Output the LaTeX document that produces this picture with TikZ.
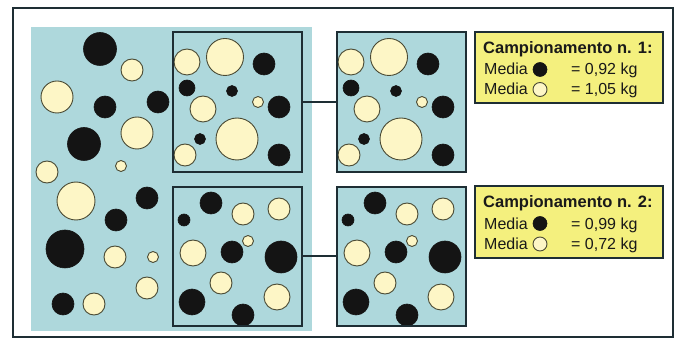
\documentclass[tikz,border=0pt]{standalone}
\usepackage{fontspec}
\setmainfont{Liberation Sans}
\definecolor{bg}{HTML}{AED8DC}
\definecolor{cream}{HTML}{FDF6C6}
\definecolor{legy}{HTML}{F4F07E}
\definecolor{frame}{HTML}{1E2E34}
\definecolor{blk}{HTML}{141414}
\definecolor{rim}{HTML}{4A4A34}
\tikzset{
 bc/.style={fill=blk, draw=blk, line width=0.6pt},
 wc/.style={fill=cream, draw=rim, line width=0.9pt},
 sample/.style={draw=frame, line width=2pt, minimum width=129pt, minimum height=140pt, inner sep=0pt, outer sep=0pt},
 legend/.style={draw=frame, fill=legy, line width=2pt, minimum width=188pt, minimum height=71pt, inner sep=0pt, outer sep=0pt},
 txt/.style={anchor=base west, inner sep=0pt, font=\fontsize{16}{19}\selectfont, text=black!90},
 ttl/.style={txt, font=\fontsize{16.5}{19}\selectfont\bfseries},
 link/.style={draw=frame, line width=2pt},
}
\newcommand\Bc[3]{\draw[bc] (#1,#2) circle[radius=#3pt];}
\newcommand\Wc[3]{\draw[wc] (#1,#2) circle[radius=#3pt];}
\newcommand\sampleOne{%
 \Wc{187}{62}{13}\Wc{225}{57}{18.5}\Bc{264}{64}{11}\Bc{187}{88}{8}%
 \Bc{232}{91}{5.5}\Wc{203}{109}{13}\Wc{258}{102}{5.5}\Bc{279}{107}{11}%
 \Bc{200}{139}{5.5}\Wc{237}{139}{21}\Wc{185}{155}{11}\Bc{279}{155}{11}}
\newcommand\sampleTwo{%
 \Bc{211}{203}{11}\Bc{184}{220}{6}\Wc{243}{214}{11}\Wc{279}{209}{11}%
 \Wc{193}{253}{13}\Bc{232}{252}{11}\Wc{248}{241}{5.5}\Bc{281}{257}{16}%
 \Wc{221}{283}{11}\Bc{192}{302}{13}\Wc{277}{297}{13}\Bc{243}{315}{11}}
\begin{document}
\begin{tikzpicture}[x=1pt,y=-1pt]
\useasboundingbox (0,0) rectangle (675,347);
\fill[white] (0,0) rectangle (675,347);
% outer frame
\draw[frame, line width=2.5pt] (13,8) rectangle (673,337);
% blue area
\fill[bg] (31,27) rectangle (312,331);
% loose circles
\Bc{100}{49}{16.5}\Wc{132}{70}{11}\Wc{57}{97}{16}\Bc{105}{107}{11}
\Bc{158}{102}{11}\Wc{137}{133}{16}\Bc{84}{144}{16.5}\Wc{47}{172}{11}
\Wc{121}{166}{5.5}\Wc{76}{201}{19}\Bc{147}{198}{11}\Bc{116}{220}{11}
\Bc{65}{249}{19}\Wc{115}{257}{11}\Wc{153}{257}{5.5}\Wc{147}{288}{11}
\Bc{63}{304}{11}\Wc{94}{304}{11}
% samples inside the mass
\sampleOne
\sampleTwo
\node[sample] (s1) at (237.5,102.5) {};
\node[sample, minimum height=139pt] (s2) at (237.5,256.5) {};
% enlarged samples
\fill[bg] (337,32) rectangle (466,173);
\fill[bg] (337,187) rectangle (466,326);
\begin{scope}
\clip (337,32) rectangle (466,173);
\begin{scope}[xshift=164pt]\sampleOne\end{scope}
\end{scope}
\begin{scope}
\clip (337,187) rectangle (466,326);
\begin{scope}[xshift=164pt]\sampleTwo\end{scope}
\end{scope}
\node[sample] (r1) at (401.5,102.5) {};
\node[sample, minimum height=139pt] (r2) at (401.5,256.5) {};
\draw[link] (s1.east) -- (r1.west);
\draw[link] (s2.east) -- (r2.west);
% legends
\node[legend] (l1) at (569,67.5) {};
\node[legend, minimum height=72pt] (l2) at (569,222) {};
\node[ttl] (t1) at (483,54) {Campionamento n. 1:};
\node[txt] (m1a) at (484,75) {Media};
\node[txt] (v1a) at (571,75) {= 0,92 kg};
\node[txt] (m1b) at (484,95) {Media};
\node[txt] (v1b) at (571,95) {= 1,05 kg};
\Bc{540}{69.5}{7}\Wc{540}{89.5}{7}
\node[ttl] (t2) at (483,208) {Campionamento n. 2:};
\node[txt] (m2a) at (484,229.5) {Media};
\node[txt] (v2a) at (571,229.5) {= 0,99 kg};
\node[txt] (m2b) at (484,249.5) {Media};
\node[txt] (v2b) at (571,249.5) {= 0,72 kg};
\Bc{540}{223.5}{7}\Wc{540}{244}{7}
\end{tikzpicture}
\end{document}
